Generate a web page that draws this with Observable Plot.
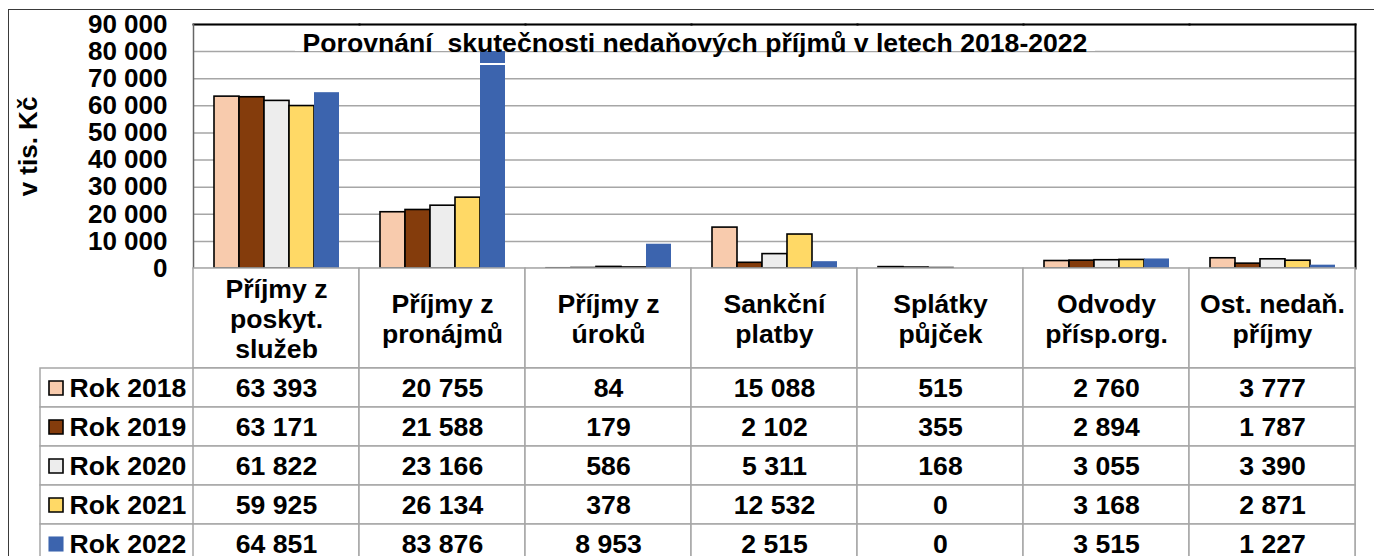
<!DOCTYPE html>
<html><head><meta charset="utf-8">
<script src="https://cdn.jsdelivr.net/npm/d3@7"></script>
<script src="https://cdn.jsdelivr.net/npm/@observablehq/plot@0.6"></script>
<style>
html,body{margin:0;padding:0;overflow:hidden;background:#fff;}
#wrap{position:relative;width:1374px;height:556px;overflow:hidden;font-family:"Liberation Sans",Arial,sans-serif;font-weight:bold;}
#border{position:absolute;left:8px;top:9px;right:-5px;bottom:-5px;border-top:1.5px solid #3a3a3a;border-left:1.5px solid #3a3a3a;}
.part{position:absolute;left:0;}
#title{position:absolute;left:295px;top:30px;width:800px;height:35px;background:linear-gradient(to bottom,#fff 0px,#fff 21px,transparent 21px,transparent 33px,#fff 33px,#fff 35px);font-size:26.6px;text-align:center;white-space:pre;color:#000;}
#title span{position:relative;display:block;line-height:21px;top:3px;}
</style></head><body>
<div id="wrap">
  <div id="border"></div>
  <div id="p1" class="part" style="top:0"></div>
  <div id="p2" class="part" style="top:268px"></div>
  <div id="p3" class="part" style="top:368px"></div>
  <div id="title"><span>Porovnání  skutečnosti nedaňových příjmů v letech 2018-2022</span></div>
</div>
<script>
const categories = [
  "Příjmy z\nposkyt.\nslužeb",
  "Příjmy z\npronájmů",
  "Příjmy z\núroků",
  "Sankční\nplatby",
  "Splátky\npůjček",
  "Odvody\npřísp.org.",
  "Ost. nedaň.\npříjmy"
];
const years = ["Rok 2018", "Rok 2019", "Rok 2020", "Rok 2021", "Rok 2022"];
const v2018 = [63393, 20755, 84, 15088, 515, 2760, 3777];
const v2019 = [63171, 21588, 179, 2102, 355, 2894, 1787];
const v2020 = [61822, 23166, 586, 5311, 168, 3055, 3390];
const v2021 = [59925, 26134, 378, 12532, 0, 3168, 2871];
const v2022 = [64851, 83876, 8953, 2515, 0, 3515, 1227];
const yTicks = [0, 10000, 20000, 30000, 40000, 50000, 60000, 70000, 80000, 90000];
const colors = ["#F8CBAD", "#843C0C", "#EDEDED", "#FFD966", "#3C64AE"];
const yLabel = "v tis. Kč";

const series = [v2018, v2019, v2020, v2021, v2022];
const data = [];
years.forEach((yr, i) => categories.forEach((c, j) => data.push({cat: c, year: yr, value: series[i][j]})));
const fmt = v => d3.format(",")(v).replace(/,/g, " ");
const font = {fontFamily: '"Liberation Sans", Arial, sans-serif', fontWeight: "bold", fontSize: "26px", background: "transparent", overflow: "visible", color: "#000"};
const grid = "#a6a6a6";
const last = years[years.length - 1];
const fs = 26.6;

const p1 = Plot.plot({
  width: 1374, height: 268, marginTop: 24, marginLeft: 192, marginRight: 19, marginBottom: 0,
  style: font,
  fx: {domain: categories, padding: 0, axis: null},
  x: {domain: years, paddingInner: 0, paddingOuter: 0.8, axis: null},
  y: {domain: [0, 90000], axis: null},
  color: {domain: years, range: colors},
  marks: [
    Plot.gridY(yTicks.filter(d => d > 0), {stroke: grid, strokeOpacity: 1, strokeWidth: 1.5}),
    Plot.barY(data, {filter: d => d.year !== last, fx: "cat", x: "year", y: "value", fill: "year", stroke: "black", strokeWidth: 1.6}),
    Plot.barY(data, {filter: d => d.year === last, fx: "cat", x: "year", y: "value", fill: "year"}),
    Plot.ruleY([0], {stroke: grid, strokeWidth: 1.5}),
    Plot.frame({anchor: "top", stroke: "black", strokeWidth: 2}),
    Plot.frame({anchor: "right", facetAnchor: "right", stroke: "black", strokeWidth: 2}),
    Plot.frame({anchor: "left", facetAnchor: "left", stroke: "#666", strokeWidth: 1.5}),
    Plot.axisY(yTicks, {tickSize: 0, tickPadding: 26, tickFormat: fmt, label: yLabel, labelAnchor: "center", labelOffset: 175, labelArrow: false, fontSize: 26, fontWeight: "bold"})
  ]
});
document.getElementById("p1").append(p1);

const p2 = Plot.plot({
  width: 1374, height: 100, marginTop: 0, marginLeft: 192, marginRight: 19, marginBottom: 0,
  style: font,
  x: {domain: categories, padding: 0, axis: null},
  marks: [
    Plot.cell(categories, {x: d => d, fill: "white", stroke: grid, strokeWidth: 1.5}),
    Plot.text(categories, {x: d => d, text: d => d, lineHeight: 1.13, fontSize: fs, fontWeight: "bold", fill: "black"})
  ]
});
document.getElementById("p2").append(p2);

const p3 = Plot.plot({
  width: 1374, height: 195, marginTop: 0, marginLeft: 192, marginRight: 19, marginBottom: 0,
  style: font,
  x: {domain: categories, padding: 0, axis: null},
  y: {domain: years, padding: 0, axis: null},
  color: {domain: years, range: colors},
  marks: [
    Plot.cell(years, {y: d => d, fill: "white", stroke: grid, strokeWidth: 1.5, insetLeft: -152}),
    Plot.cell(data, {x: "cat", y: "year", fill: "white", stroke: grid, strokeWidth: 1.5}),
    Plot.text(data, {x: "cat", y: "year", text: d => fmt(d.value), fontSize: fs, fontWeight: "bold", fill: "black"}),
    Plot.text(years, {y: d => d, text: d => d, frameAnchor: "left", dx: -123, textAnchor: "start", fontSize: fs, fontWeight: "bold", fill: "black"}),
    Plot.dot(years.filter(d => d !== last), {y: d => d, frameAnchor: "left", dx: -136.5, symbol: "square", r: 7.9, fill: d => d, stroke: "black", strokeWidth: 1.6}),
    Plot.dot([last], {y: d => d, frameAnchor: "left", dx: -136.5, symbol: "square", r: 8.5, fill: d => d})
  ]
});
document.getElementById("p3").append(p3);
</script>
</body></html>
